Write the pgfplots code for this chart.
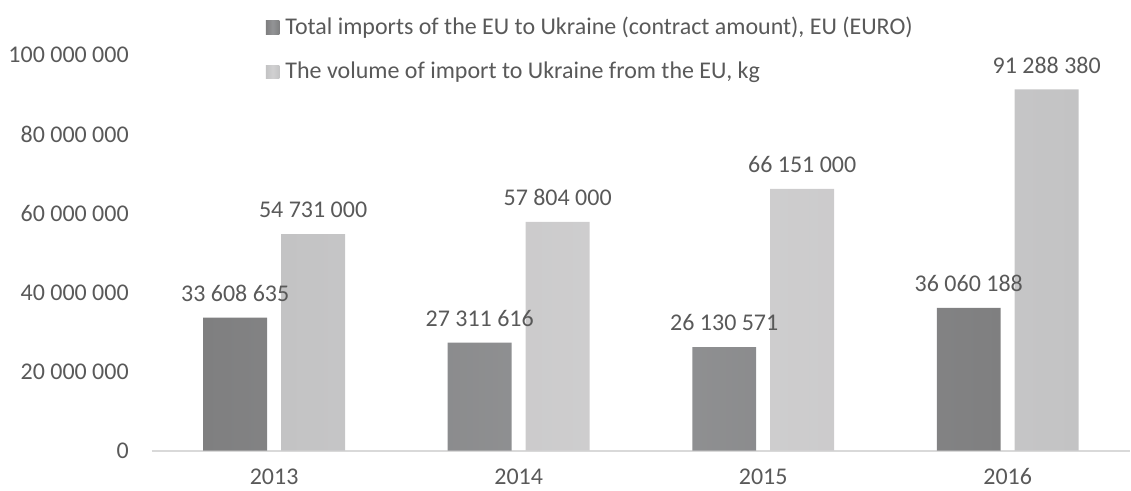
\documentclass[border=0pt]{standalone}
\usepackage{pgfplots}
\pgfplotsset{compat=1.18}
\usepackage{fontspec}
\setmainfont{Carlito}
\definecolor{txt}{HTML}{595959}
\definecolor{axisgray}{HTML}{D9D9D9}
\definecolor{darkedge}{HTML}{7F7F80}
\definecolor{darkmid}{HTML}{939496}
\definecolor{lightedge}{HTML}{C3C3C4}
\definecolor{lightmid}{HTML}{D1D0D1}
\definecolor{legdark}{HTML}{6E6E6E}
\definecolor{leglight}{HTML}{B9B9B9}
\begin{document}
\fontsize{24pt}{28pt}\selectfont
\begin{tikzpicture}
\begin{axis}[
  scale only axis,
  width=979pt, height=396pt,
  xmin=-0.5, xmax=3.5,
  ymin=0, ymax=100000000,
  scaled y ticks=false,
  clip=false,
  ybar=14pt, bar width=64pt,
  axis x line*=bottom, axis y line*=left,
  y axis line style={draw=none},
  x axis line style={-, draw=axisgray, line width=2pt},
  xtick={0,1,2,3},
  xticklabels={2013,2014,2015,2016},
  ytick={0,20000000,40000000,60000000,80000000,100000000},
  yticklabels={0,20 000 000,40 000 000,60 000 000,80 000 000,100 000 000},
  major tick length=0pt,
  tick style={draw=none},
  tick label style={text=txt},
  yticklabel style={inner sep=0pt, anchor=east, xshift=-23pt},
  xticklabel style={inner sep=0pt, anchor=north, yshift=-18pt},
  point meta=explicit symbolic,
  nodes near coords,
  nodes near coords style={text=txt, inner sep=0pt, anchor=south, yshift=16pt},
  legend cell align=left,
  legend style={draw=none, fill=none, at={(rel axis cs:0.1134,1.102)}, anchor=north west,
    text=txt, row sep=24pt, nodes={inner sep=0pt}},
]
\addplot[draw=none, left color=darkedge, right color=darkedge, middle color=darkmid,
  legend image code/.code={\fill[legdark] (0pt,-6.75pt) rectangle (13.5pt,6.75pt); \path (0pt,0pt) -- (19.5pt,0pt);}]
  coordinates {(0,33608635) [33 608 635] (1,27311616) [27 311 616] (2,26130571) [26 130 571] (3,36060188) [36 060 188]};
\addlegendentry{Total imports of the EU to Ukraine (contract amount), EU (EURO)}
\addplot[draw=none, left color=lightedge, right color=lightedge, middle color=lightmid,
  legend image code/.code={\fill[leglight] (0pt,-6.75pt) rectangle (13.5pt,6.75pt); \path (0pt,0pt) -- (19.5pt,0pt);}]
  coordinates {(0,54731000) [54 731 000] (1,57804000) [57 804 000] (2,66151000) [66 151 000] (3,91288380) [91 288 380]};
\addlegendentry{The volume of import to Ukraine from the EU, kg}
\path (rel axis cs:0,0) ++(-152pt,-40pt) rectangle ++(1131pt,491pt);
\end{axis}
\end{tikzpicture}
\end{document}
